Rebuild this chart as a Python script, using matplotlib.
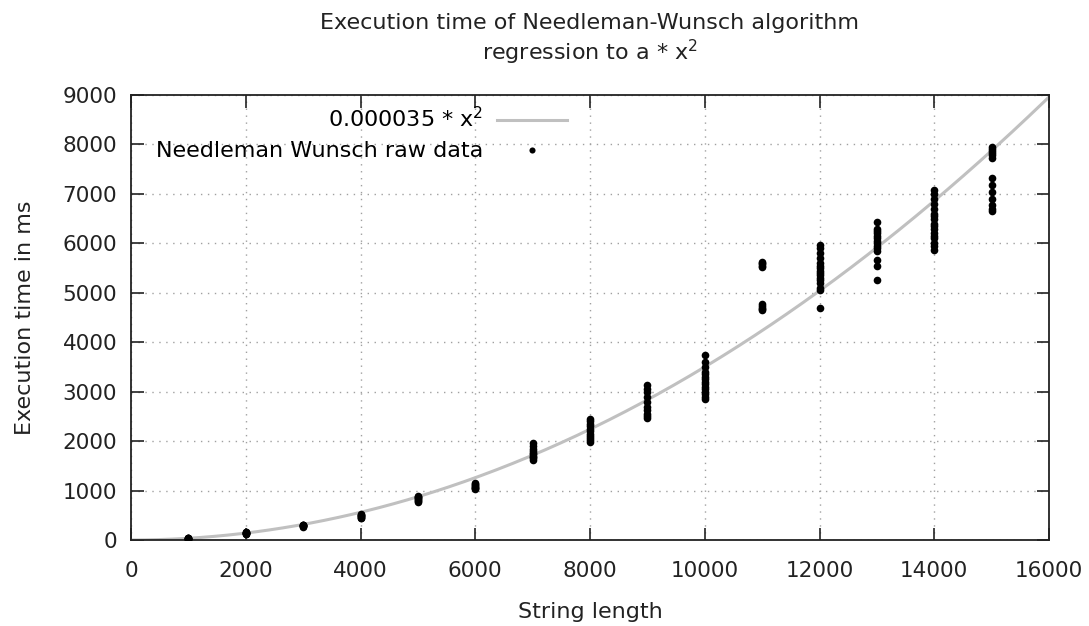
import matplotlib
matplotlib.use("Agg")
import matplotlib.pyplot as plt
import numpy as np

# string lengths measured
lengths = [1000, 2000, 3000, 4000, 5000, 6000, 7000, 8000,
           9000, 10000, 11000, 12000, 13000, 14000, 15000]

# execution times (ms), one list per string length
t1000 = [25, 28, 30, 30, 32, 33, 35, 36]
t2000 = [125, 130, 135, 140, 145, 150, 155, 160]
t3000 = [270, 280, 285, 290, 295, 300, 305, 310]
t4000 = [440, 455, 465, 480, 490, 505, 515, 525]
t5000 = [770, 790, 800, 820, 840, 860, 875, 890]
t6000 = [1030, 1050, 1060, 1080, 1100, 1110, 1130, 1150]
t7000 = [1620, 1650, 1680, 1700, 1730, 1760, 1800, 1850, 1900, 1960]
t8000 = [1980, 2020, 2060, 2100, 2150, 2200, 2250, 2300, 2350, 2400, 2450]
t9000 = [2470, 2500, 2550, 2620, 2700, 2800, 2900, 3000, 3060, 3130]
t10000 = [2850, 2900, 2950, 3000, 3050, 3100, 3150, 3200, 3250,
          3300, 3350, 3400, 3500, 3600, 3740]
t11000 = [4650, 4680, 4700, 4730, 4770, 5520, 5550, 5580, 5600, 5620]
t12000 = [4690, 5060, 5100, 5200, 5250, 5300, 5350, 5400, 5450, 5500,
          5550, 5600, 5700, 5800, 5900, 5970]
t13000 = [5260, 5540, 5660, 5850, 5900, 5950, 6000, 6050, 6100, 6150,
          6200, 6250, 6290, 6430]
t14000 = [5870, 5950, 6000, 6100, 6150, 6200, 6300, 6350, 6400, 6500,
          6550, 6600, 6700, 6800, 6900, 7000, 7080]
t15000 = [6650, 6700, 6780, 6900, 7040, 7180, 7320, 7730, 7780, 7820,
          7860, 7900, 7950]

times = [t1000, t2000, t3000, t4000, t5000, t6000, t7000, t8000,
         t9000, t10000, t11000, t12000, t13000, t14000, t15000]

fit_a = 0.000035

FS = 16
TICK_FS = 15.5

xs = np.concatenate([[n] * len(t) for n, t in zip(lengths, times)])
ys = np.concatenate(times)

fig = plt.figure(figsize=(10.89, 6.26), dpi=100)
ax = fig.add_axes([131 / 1089, 86 / 626, 918 / 1089, 445 / 626])

xf = np.linspace(0, 16000, 400)
ax.plot(xf, fit_a * xf ** 2, color="#c0c0c0", lw=2.2,
        label="0.000035 * $\\mathregular{x^2}$", zorder=2)
ax.plot(xs, ys, "o", color="black", ms=5.5, mec="none",
        label="Needleman Wunsch raw data", zorder=3)

ax.set_xlim(0, 16000)
ax.set_ylim(0, 9000)
ax.set_xticks(np.arange(0, 16001, 2000))
ax.set_yticks(np.arange(0, 9001, 1000))
ax.tick_params(direction="in", length=9, width=1.2, labelsize=TICK_FS,
               top=True, right=True, pad=10, colors="#222222")
ax.tick_params(axis="x", pad=15)
ax.grid(True, color="#a0a0a0", linestyle=(0, (1, 4)), lw=1)
for s in ax.spines.values():
    s.set_color("#222222")
    s.set_linewidth(1.3)

ax.set_xlabel("String length", fontsize=FS, labelpad=15, color="#222222")
ax.set_ylabel("Execution time in ms", fontsize=FS, labelpad=20, color="#222222")
ax.set_title("Execution time of Needleman-Wunsch algorithm\nregression to a * $\\mathregular{x^2}$",
             fontsize=FS, pad=25, color="#222222")

leg = ax.legend(loc="upper right", bbox_to_anchor=(436 / 918, 0.975),
                markerfirst=False, frameon=False, fontsize=FS,
                handlelength=3.15, handletextpad=0.63, borderaxespad=0,
                borderpad=0, labelspacing=0.45, markerscale=0.8)

fig.savefig("out.png", dpi=100)
